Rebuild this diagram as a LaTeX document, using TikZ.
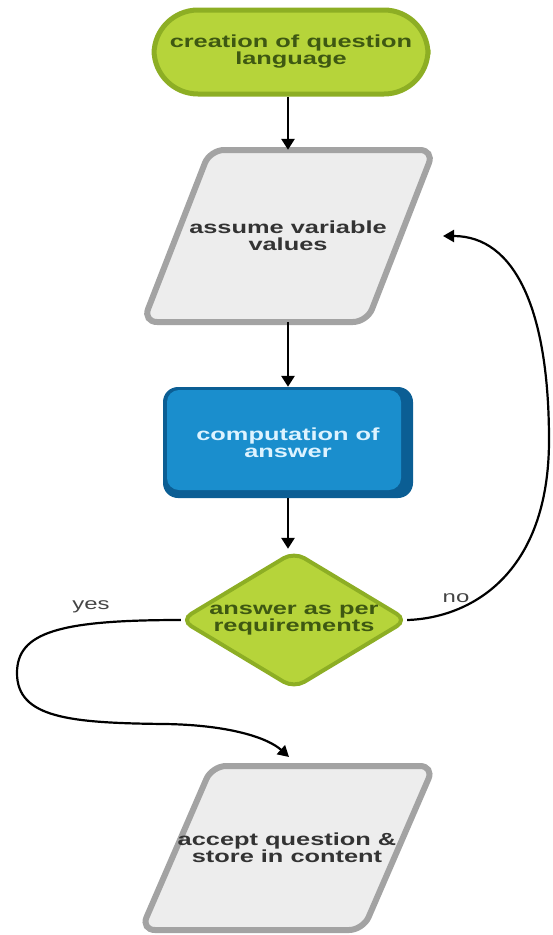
\documentclass[tikz,border=0pt]{standalone}
\usepackage{fontspec}
\setmainfont{Liberation Sans}
\newfontfamily\flowfont[FakeStretch=1.45]{Liberation Sans}
\usetikzlibrary{arrows.meta}
\definecolor{limefill}{HTML}{B6D43A}
\definecolor{limeedge}{HTML}{8DAE24}
\definecolor{limetext}{HTML}{3E5812}
\definecolor{greyfill}{HTML}{EDEDED}
\definecolor{greyedge}{HTML}{A3A3A3}
\definecolor{greytext}{HTML}{333333}
\definecolor{bluefill}{HTML}{1A8ECD}
\definecolor{blueedge}{HTML}{0B5E94}
\definecolor{bluetext}{HTML}{DDF3FF}
\definecolor{labeltext}{HTML}{444444}
\tikzset{
  every node/.style={font=\flowfont\bfseries\fontsize{17.5}{17}\selectfont, align=center, inner sep=0pt},
  terminal/.style={draw=limeedge, fill=limefill, line width=5pt, rounded corners=44pt,
    minimum width=274pt, minimum height=84pt, text=limetext},
  decisionedge/.style={draw=limeedge, fill=limefill, line width=4pt, rounded corners=12pt},
  decisiontext/.style={text=limetext, minimum width=226pt, minimum height=136pt},
  ioedge/.style={draw=greyedge, fill=greyfill, line width=6pt, rounded corners=14pt},
  iotext/.style={text=greytext, minimum width=224pt, minimum height=172pt},
  proctext/.style={text=bluetext, minimum width=250pt, minimum height=111pt},
  flow/.style={draw=black, line width=2.8pt, -{Triangle[length=11pt,width=13pt]}},
  loop/.style={draw=black, line width=2.2pt, -{Triangle[length=11pt,width=12pt]}},
  branch/.style={font=\flowfont\fontsize{16.5}{16}\selectfont, text=labeltext}
}
\begin{document}
\begin{tikzpicture}[x=1pt,y=-1pt]
\useasboundingbox (0,0) rectangle (552,935);

% start terminal
\node[terminal] (start) at (291,52) {creation of question\\language};

% input: assume values
\draw[ioedge] (322,150) -- (434,150) -- (367,322) -- (143,322) -- (210,150) -- cycle;
\node[iotext] (assume) at (288,236) {assume variable\\values};

% process: compute the answer (dark rim, lighter face)
\fill[blueedge, rounded corners=15pt] (163,387) rectangle (413,498);
\fill[bluefill, rounded corners=12pt] (167,390) rectangle (401,490);
\node[proctext] (compute) at (288,442.5) {computation of\\answer};

% decision
\draw[decisionedge] (294,552) -- (407,620) -- (294,688) -- (181,620) -- cycle;
\node[decisiontext] (check) at (294,620) {answer as per\\requirements};

% output: accept and store
\draw[ioedge] (322,766) -- (434,766) -- (363,930) -- (141,930) -- (212,766) -- cycle;
\node[iotext, minimum height=164pt] (accept) at (287,848) {accept question \&\\store in content};

% free ends of the two branches
\coordinate (retry) at (443,236);
\coordinate (store) at (289,757);

% main flow
\draw[flow] (start.south -| assume.north) -- (assume.north);
\draw[flow] (assume.south) -- (compute.north);
\draw[flow] (compute.south) -- ([yshift=3pt]compute.south |- check.north);

% no: back to assume values
\draw[loop] (check.east) .. controls (470,618) and (549,575) .. (549,440)
  .. controls (549,310) and (515,236) .. (retry);
\node[branch] (nolabel) at (456,598) {no};

% yes: on to accept question
\draw[loop] (check.west) .. controls (60,620) and (17,632) .. (17,673)
  .. controls (17,718) and (70,723) .. (165,724)
  .. controls (230,725) and (268,738) .. (store);
\node[branch] (yeslabel) at (91,607) {yes};
\end{tikzpicture}
\end{document}
